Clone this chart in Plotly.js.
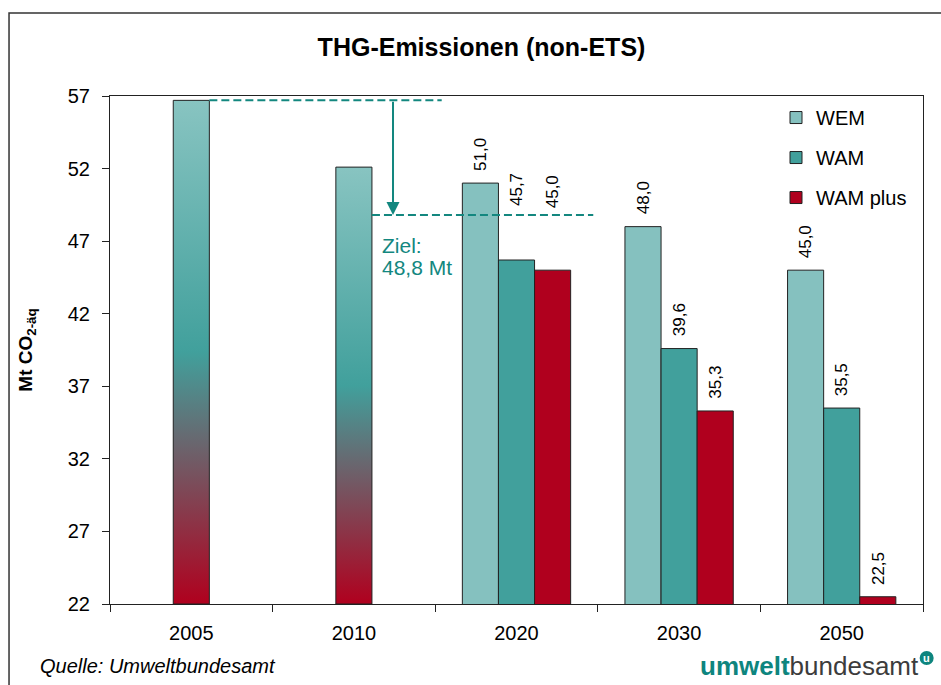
<!DOCTYPE html>
<html>
<head>
<meta charset="utf-8">
<script src="https://cdn.plot.ly/plotly-3.0.1.min.js"></script>
<style>html,body{margin:0;padding:0;background:#fff;}#chart{width:941px;height:685px;}</style>
</head>
<body>
<div id="chart"></div>
<script>
// ---- data ----
const categories = ['2005', '2010', '2020', '2030', '2050'];
const historical = [56.7, 52.1, null, null, null];
const wem = [null, null, 51.0, 48.0, 45.0];
const wam = [null, null, 45.7, 39.6, 35.5];
const wamPlus = [null, null, 45.0, 35.3, 22.5];
const seriesNames = ['WEM', 'WAM', 'WAM plus'];
const target = 48.8;
const targetLabel = ['Ziel:', '48,8 Mt'];
const yTickVals = [22, 27, 32, 37, 42, 47, 52, 57];

// ---- styles ----
const FONT = 'Liberation Sans, Arial, sans-serif';
const colors = ['#85c1bf', '#41a09c', '#b0001e'];
const teal = '#13877f';
const edge = '#222222';
const bargap = 0.334;
const bw = (1 - bargap) / 3;
const yMin = 22, yMax = 57;
const labelLift = {default: 10, 'WAM|2020': 52, 'WAM plus|2020': 60};

const xs = categories.map((c, i) => i);
const seriesValues = [wem, wam, wamPlus];

const traces = [];
// historical gradient bars
historical.forEach((v, i) => {
  if (v === null) return;
  traces.push({
    type: 'scatter', mode: 'lines', fill: 'toself',
    x: [i - bw / 2, i - bw / 2, i + bw / 2, i + bw / 2, i - bw / 2],
    y: [yMin, v, v, yMin, yMin],
    line: {color: edge, width: 1},
    fillgradient: {type: 'vertical', colorscale: [[0, '#b0001e'], [0.5, '#41a09c'], [1, '#88c4c1']]},
    showlegend: false, hoverinfo: 'skip'
  });
});
seriesValues.forEach((vals, k) => {
  traces.push({
    type: 'bar', name: seriesNames[k], x: xs, y: vals,
    marker: {color: colors[k], line: {color: edge, width: 1}},
    legendgroup: 'g' + k, hoverinfo: 'skip'
  });
});

const annotations = [];
seriesValues.forEach((vals, k) => {
  vals.forEach((v, i) => {
    if (v === null) return;
    const key = seriesNames[k] + '|' + categories[i];
    annotations.push({
      x: i + (k - 1) * bw, y: v, xref: 'x', yref: 'y',
      text: v.toFixed(1).replace('.', ','), textangle: -90,
      xanchor: 'center', yanchor: 'bottom', showarrow: false,
      yshift: labelLift[key] !== undefined ? labelLift[key] : labelLift.default,
      font: {family: FONT, size: 17, color: '#000'}
    });
  });
});
// target arrow
annotations.push({
  x: 1.2405, y: target, ax: 1.2405, ay: historical[0], xref: 'x', yref: 'y', axref: 'x', ayref: 'y',
  text: '', showarrow: true, arrowhead: 2, arrowsize: 1.3, arrowwidth: 2, arrowcolor: teal,
  standoff: 0, startstandoff: 0
});
targetLabel.forEach((t, j) => {
  annotations.push({
    x: 1 + bw / 2, y: target, xref: 'x', yref: 'y', xanchor: 'left', yanchor: 'middle',
    xshift: 8, yshift: -30 - 22 * j, text: t, showarrow: false,
    font: {family: FONT, size: 21, color: teal}
  });
});
// source + logo
annotations.push({
  x: -0.0885, y: -0.1215, xref: 'paper', yref: 'paper', xanchor: 'left', yanchor: 'middle',
  text: '<i>Quelle: Umweltbundesamt</i>', showarrow: false,
  font: {family: FONT, size: 20, color: '#000'}
});
annotations.push({
  x: 0.9975, y: -0.1228, xref: 'paper', yref: 'paper', xanchor: 'right', yanchor: 'middle',
  text: '<span style="color:#0e857e"><b>umwelt</b></span><span style="color:#3c3c3c">bundesamt</span>',
  showarrow: false, font: {family: FONT, size: 26}
});
annotations.push({
  x: 1.0045, y: -0.1063, xref: 'paper', yref: 'paper', xanchor: 'center', yanchor: 'middle',
  text: '<b>u</b>', showarrow: false, font: {family: FONT, size: 11, color: '#fff'}
});

const shapes = [
  {type: 'line', xref: 'x', yref: 'y', x0: 0 + bw / 2, x1: 1.54, y0: historical[0], y1: historical[0],
   line: {color: teal, width: 2, dash: '8px,4px'}},
  {type: 'line', xref: 'x', yref: 'y', x0: 1 + bw / 2, x1: 2.472, y0: target, y1: target,
   line: {color: teal, width: 2, dash: '8px,4px'}},
  {type: 'rect', xref: 'paper', yref: 'paper', x0: -0.1242, x1: 1.06, y0: -0.3, y1: 1.1634,
   line: {color: '#333', width: 1.5}},
  {type: 'circle', xref: 'paper', yref: 'paper', xsizemode: 'pixel', ysizemode: 'pixel',
   xanchor: 1.0045, yanchor: -0.1063, x0: -7, x1: 7, y0: -7, y1: 7,
   fillcolor: '#0e857e', line: {width: 0}}
];

const layout = {
  width: 941, height: 685,
  margin: {l: 110, r: 18, t: 96, b: 81},
  paper_bgcolor: '#fff', plot_bgcolor: '#fff',
  font: {family: FONT, color: '#000'},
  title: {text: '<b>THG-Emissionen (non-ETS)</b>', font: {family: FONT, size: 25, color: '#000'},
          x: 0.5117, xref: 'container', xanchor: 'center', y: 0.9307, yref: 'container', yanchor: 'middle'},
  barmode: 'group', bargap: bargap, bargroupgap: 0,
  showlegend: true,
  legend: {x: 0.8192, xanchor: 'left', y: 0.996, yanchor: 'top', font: {family: FONT, size: 20},
           bgcolor: 'rgba(0,0,0,0)', tracegroupgap: 11, traceorder: 'grouped'},
  xaxis: {
    range: [-0.5, categories.length - 0.5], tickmode: 'array', tickvals: xs, ticktext: categories,
    ticks: '', showline: true, mirror: true, linecolor: edge, linewidth: 1, showgrid: false, zeroline: false,
    tickfont: {family: FONT, size: 20, color: '#000'}, ticklabelstandoff: 11,
    minor: {tickmode: 'array', tickvals: categories.map((c, i) => i - 0.5).concat([categories.length - 0.5]),
            ticks: 'outside', ticklen: 7, tickcolor: edge, tickwidth: 1, showgrid: false}
  },
  yaxis: {
    range: [yMin, yMax], tickmode: 'array', tickvals: yTickVals,
    ticks: 'outside', ticklen: 7, tickcolor: edge, tickwidth: 1,
    showline: true, mirror: true, linecolor: edge, linewidth: 1, showgrid: false, zeroline: false,
    tickfont: {family: FONT, size: 20, color: '#000'}, ticklabelstandoff: 8,
    title: {text: '<b>Mt CO<sub>2-äq</sub></b>', font: {family: FONT, size: 19, color: '#000'}, standoff: 30}
  },
  annotations: annotations,
  shapes: shapes
};

Plotly.newPlot('chart', traces, layout, {displayModeBar: false, staticPlot: true});
</script>
</body>
</html>
